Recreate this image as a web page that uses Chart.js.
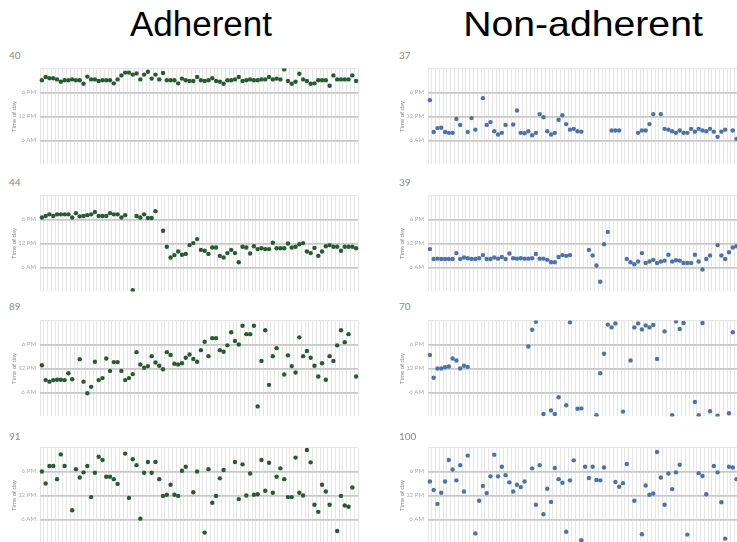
<!DOCTYPE html>
<html>
<head>
<meta charset="utf-8">
<script src="https://cdn.jsdelivr.net/npm/chart.js@4/dist/chart.umd.min.js"></script>
<style>
    html, body { margin: 0; padding: 0; overflow: hidden; background: #fff; }
    body { position: relative; width: 737px; height: 542px; font-family: Lato, "Open Sans", sans-serif; }
    .title { position: absolute; top: 4px; font-family: "Liberation Sans", Arial, sans-serif; font-size: 35px; color: #000; transform: translateX(-50%); white-space: nowrap; }
    .num { position: absolute; font-size: 10px; color: #8a8a8a; line-height: 10px; }
    canvas { position: absolute; }
</style>
</head>
<body>
<div class="title" style="left:201px">Adherent</div>
<div class="title" style="left:583px; transform: translateX(-50%) scaleX(1.12)">Non-adherent</div>
<script>
// one column per day, y = hour of day the dose was taken (0-24)
const dayCount = 84;
const hourTicks = [0, 6, 12, 18, 24];
const hourLabels = {6: '6 AM', 12: '12 PM', 18: '6 PM'};

const adherent40 = [21.1, 21.9, 21.6, 21.6, 21.3, 20.7, 21.1, 21.1, 21.3, 21.1,
    21.1, 20.2, 22.0, 21.3, 21.3, 20.9, 21.1, 21.1, 21.1, 20.3,
    21.3, 22.3, 23.0, 23.0, 22.5, 22.8, 21.3, 22.5, 23.2, 21.5,
    22.5, 21.3, 22.9, 21.1, 21.1, 21.1, 20.3, 21.5, 21.1, 20.9,
    20.9, 21.9, 21.1, 20.9, 21.1, 21.6, 20.9, 20.7, 20.2, 21.1,
    21.1, 21.3, 21.9, 20.9, 21.1, 21.3, 21.1, 21.1, 21.3, 21.3,
    21.9, 21.3, 21.5, 21.3, 23.8, 20.9, 20.2, 20.7, 22.7, 21.3,
    20.9, 20.2, 20.3, 21.1, 21.1, 21.1, 19.7, 22.3, 21.3, 21.3,
    21.3, 21.3, 22.3, 20.9];

const adherent44 = [18.5, 18.9, 19.3, 18.9, 19.3, 19.3, 19.3, 19.3, 18.5, 19.6,
    18.8, 18.9, 19.1, 19.3, 19.9, 18.9, 18.9, 18.9, 19.6, 19.3,
    19.3, 18.5, 19.1, null, 0.3, 18.9, 18.5, 19.3, 18.4, 18.4,
    20.1, null, 15.2, 11.2, 8.5, 9.1, 10.0, 9.2, 9.4, 11.6,
    12.1, 13.1, 10.4, 10.2, 9.4, 11.0, 11.0, 8.9, 8.5, 9.6,
    10.4, 9.6, 7.3, 11.2, 11.0, 9.5, 11.3, 10.6, 10.8, 10.6,
    10.6, 12.2, 10.8, 10.8, 10.8, 12.0, 11.0, 11.2, 11.8, 12.1,
    10.0, 9.6, 10.9, 8.9, 10.0, 11.3, 11.6, 11.2, 11.2, 10.2,
    11.2, 11.2, 11.2, 10.8];

const adherent89 = [12.8, 9.1, 8.7, 9.1, 9.2, 9.2, 9.1, 10.8, 9.3, null,
    14.3, 8.7, 5.8, 7.4, 13.7, 9.1, 9.6, 14.5, 11.4, 13.6,
    13.6, 11.4, 9.1, 9.6, 10.6, 16.1, 13.0, 12.2, 12.6, 15.1,
    13.5, 12.7, 11.8, 16.1, 15.4, 13.2, 13.0, 13.3, 14.7, 15.5,
    14.4, 13.7, 16.6, 18.7, 15.1, 19.6, 19.6, 16.6, 16.2, 17.8,
    21.1, 18.9, 18.0, 22.7, 20.6, 20.6, 22.7, 2.5, 13.9, 21.6,
    7.9, 15.1, 17.1, null, 10.5, 15.3, 12.6, 11.0, 19.8, 15.1,
    16.4, 14.7, 12.7, 10.0, 13.3, 9.2, 15.1, 13.9, 17.8, 21.6,
    18.6, 20.6, null, 10.0];

const adherent91 = [18.0, 15.0, 19.4, 19.4, 16.1, 22.3, 19.4, null, 8.3, 18.6,
    16.5, 17.8, 19.4, 11.6, 17.7, 21.7, 20.9, 16.7, 16.7, 16.1,
    14.9, null, 22.5, 11.4, 21.1, 19.6, 6.2, 17.7, 20.4, 17.7,
    20.4, 16.1, 11.9, 12.2, 14.7, 12.2, 11.9, 18.2, 19.2, null,
    12.8, 18.0, null, 2.7, 18.6, 10.2, 11.9, 16.3, 18.4, null,
    null, 20.4, 11.1, 19.8, 12.0, 17.5, 12.2, 12.3, 20.9, 13.2,
    20.2, 12.7, 16.7, 18.8, 16.1, 11.6, 11.6, 21.5, 12.7, 12.0,
    23.4, 20.3, 9.7, 7.9, 14.7, 13.0, 9.7, null, 3.1, 11.9,
    9.5, 9.2, 14.0, null];

const nonAdherent37 = [16.1, 8.1, 9.1, 9.2, 8.1, 7.9, 7.9, 11.4, 9.9, null,
    8.1, 11.6, 8.7, null, 16.6, 9.9, 10.6, 8.3, 7.5, 7.9,
    9.9, null, 10.0, 13.5, 7.9, 7.8, 8.3, 7.3, 7.9, 12.6,
    11.8, 8.3, 7.5, 7.9, 11.2, 12.3, 10.1, 8.7, 8.9, 8.3,
    8.2, null, null, null, null, null, null, null, 8.5, 8.5,
    8.5, null, null, null, null, 7.9, 8.5, 8.5, 10.1, 12.6,
    null, 12.6, 8.9, 8.7, 8.3, 7.9, 8.5, 7.9, 7.9, 8.9,
    8.2, 8.9, 8.5, 8.3, 8.9, 8.2, 6.9, 8.2, 8.7, null,
    8.5, 6.4, 8.4, 8.6];

const nonAdherent39 = [10.6, 8.1, 8.2, 8.1, 8.1, 8.1, 8.1, 9.6, 8.1, 8.5,
    8.3, 8.1, 8.1, 8.3, 9.1, 8.1, 8.1, 8.5, 8.2, 8.6,
    8.1, 9.5, 8.3, 8.2, 8.3, 8.2, 8.2, 8.3, 9.4, 8.2,
    8.2, 7.9, 7.3, 7.3, 8.6, 9.1, 8.9, 9.1, null, null,
    null, null, 10.4, 9.0, 6.5, 2.4, 11.8, 14.9, null, null,
    null, null, 8.1, 7.3, 6.8, 7.5, 9.6, 7.1, 7.5, 7.9,
    7.1, 7.5, 7.7, 9.2, 7.5, 7.8, 7.7, 7.1, 7.1, 7.1,
    9.2, 7.5, 5.5, 8.1, 9.0, null, 11.6, 9.0, 8.1, 9.8,
    11.0, 11.3, 10.5, 9.8];

const nonAdherent70 = [15.4, 9.7, 12.0, 12.0, 12.3, 12.5, 14.5, 14.0, 12.0, 12.7,
    12.4, null, null, null, null, null, null, null, null, null,
    null, null, null, null, null, null, 17.5, 21.7, 23.7, null,
    0.6, null, 1.5, 0.6, 4.8, null, 2.8, 23.6, null, 1.9,
    2.0, null, null, null, 0.3, 10.8, 15.7, 23.0, 22.3, 23.3,
    null, 1.2, null, 14.0, 22.3, 23.3, 21.8, 22.8, 22.3, 22.9,
    14.4, null, 21.3, null, 0.3, 23.8, 21.9, 23.4, null, null,
    3.6, 0.3, 23.4, null, 1.3, null, 0.2, null, null, 0.8,
    21.1, null, null, null];

const nonAdherent100 = [15.5, 13.4, 9.9, 12.7, 15.5, 20.9, 18.5, 15.8, 19.6, 13.0,
    22.0, null, 2.5, 10.7, 14.4, 12.6, 16.8, 22.2, 16.8, 19.2,
    17.1, 15.3, 13.0, 14.7, 14.1, 15.5, null, 18.8, 9.7, 19.6,
    7.3, 13.7, 10.4, 18.9, 16.1, 15.2, 2.9, 15.8, 20.8, null,
    0.8, 19.2, 16.4, 19.2, 15.9, 15.8, 19.0, null, null, 15.4,
    14.2, 15.1, 19.9, null, 10.7, null, 2.3, 14.5, 12.2, 12.5,
    22.9, 16.5, 9.7, 17.5, 13.6, 17.8, 19.7, null, 2.2, null,
    null, 17.6, 16.9, 12.3, null, 19.4, 17.8, 10.3, 1.2, 19.2,
    19.0, 16.1, null, null];

const panelNumbers = [['40', '37'], ['44', '39'], ['89', '70'], ['91', '100']];
const panelData = [
    [adherent40, nonAdherent37],
    [adherent44, nonAdherent39],
    [adherent89, nonAdherent70],
    [adherent91, nonAdherent100]
];

const groupColors = ['#275c33', '#4b74ab'];
const plotTops = [65, 192, 317, 444];
const labelTops = [50, 177, 301, 431];
const plotHeight = 103;

const columns = [
    {canvasLeft: 0, canvasWidth: 362, padLeft: 8, axisWidth: 32, labelLeft: 9},
    {canvasLeft: 370, canvasWidth: 380, padLeft: 26, axisWidth: 32, labelLeft: 399}
];

function dayLabels() {
    let labels = [];
    for (let d = 1; d <= dayCount; d++) {
        labels.push(d);
    }
    return labels;
}

function addNumber(text, left, top) {
    const div = document.createElement('div');
    div.className = 'num';
    div.textContent = text;
    div.style.left = left + 'px';
    div.style.top = top + 'px';
    document.body.appendChild(div);
}

function makePanel(row, col) {
    const c = columns[col];
    const canvas = document.createElement('canvas');
    canvas.width = c.canvasWidth;
    canvas.height = plotHeight + 8;
    canvas.style.left = c.canvasLeft + 'px';
    canvas.style.top = (plotTops[row] - 4) + 'px';
    document.body.appendChild(canvas);

    addNumber(panelNumbers[row][col], c.labelLeft, labelTops[row]);

    return new Chart(canvas, {
        type: 'line',
        data: {
            labels: dayLabels(),
            datasets: [{
                data: panelData[row][col],
                showLine: false,
                pointRadius: 2.2,
                pointHoverRadius: 2.2,
                pointBorderWidth: 0,
                pointBackgroundColor: groupColors[col],
                borderColor: groupColors[col]
            }]
        },
        options: {
            responsive: false,
            animation: false,
            devicePixelRatio: 1,
            layout: {padding: {top: 4, bottom: 4, left: c.padLeft, right: 4}},
            plugins: {legend: {display: false}, tooltip: {enabled: false}},
            scales: {
                x: {
                    type: 'category',
                    offset: true,
                    grid: {
                        offset: true,
                        drawTicks: false,
                        color: '#e6e6e6',
                        lineWidth: 1
                    },
                    border: {display: false},
                    ticks: {display: false},
                    afterFit: scale => { scale.height = 0; }
                },
                y: {
                    type: 'linear',
                    min: 0,
                    max: 24,
                    afterBuildTicks: axis => {
                        axis.ticks = hourTicks.map(v => ({value: v}));
                    },
                    afterFit: scale => { scale.width = c.axisWidth; },
                    border: {display: false},
                    grid: {
                        drawTicks: false,
                        color: ctx => {
                            const v = ctx.tick.value;
                            if (v === 0) return 'rgba(0,0,0,0)';
                            if (v === 24) return '#e6e6e6';
                            return '#c8c8c8';
                        },
                        lineWidth: ctx => (ctx.tick.value % 24 === 0 ? 1 : 1.7)
                    },
                    ticks: {
                        padding: 4,
                        color: '#aaaaaa',
                        font: {size: 6, family: 'Lato'},
                        callback: v => hourLabels[v] || ''
                    },
                    title: {
                        display: true,
                        text: 'Time of day',
                        color: '#888888',
                        padding: {top: 2, bottom: 2},
                        font: {size: 6, family: 'Lato'}
                    }
                }
            }
        }
    });
}

for (let row = 0; row < 4; row++) {
    for (let col = 0; col < 2; col++) {
        makePanel(row, col);
    }
}
</script>
</body>
</html>
